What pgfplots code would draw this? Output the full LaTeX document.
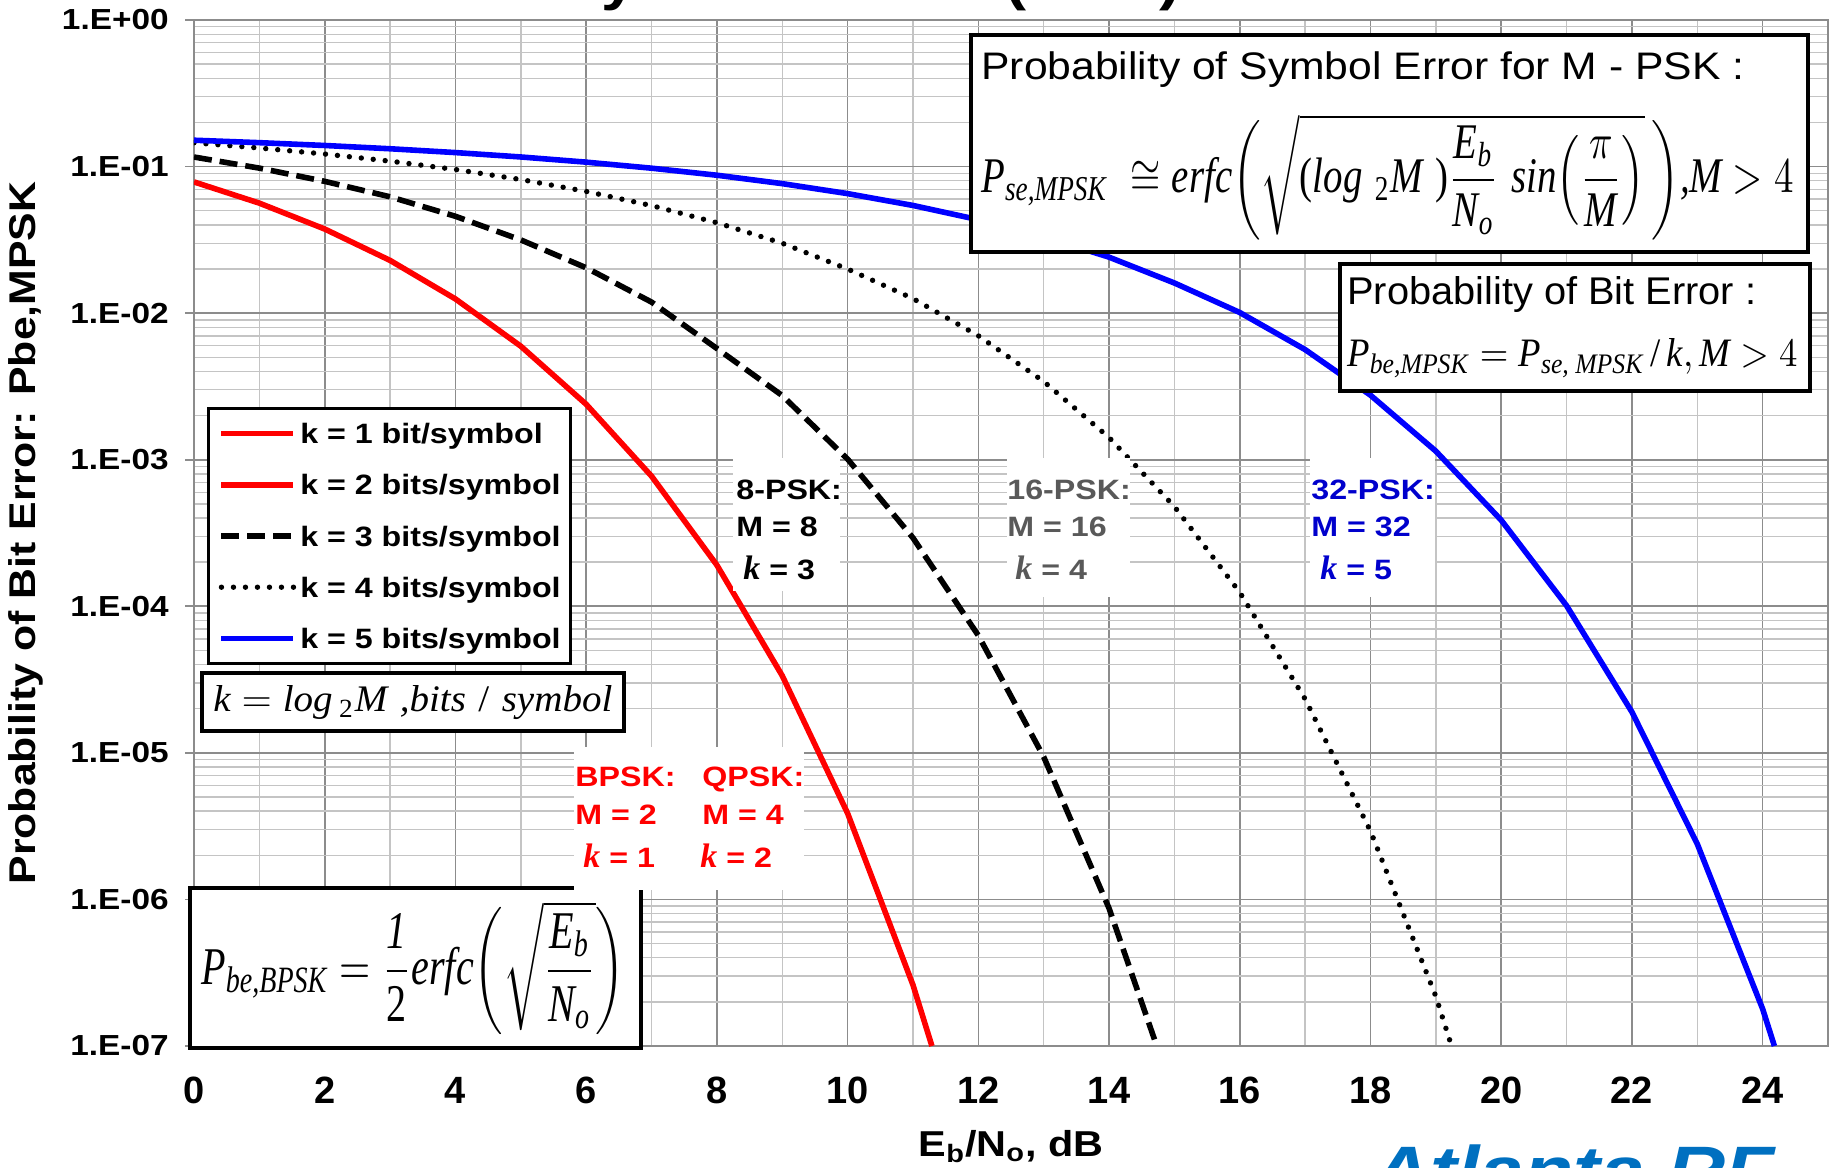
\documentclass[border=0pt]{standalone}
\usepackage{fontspec}
\usepackage{amsmath}
\usepackage{graphicx}
\usepackage{pgfplots}
\pgfplotsset{compat=1.18}
\setmainfont[FakeStretch=1.15]{Liberation Sans}
\newfontfamily\plainsans{Liberation Sans}
\newfontfamily\tnr{Liberation Serif}
\definecolor{gridmaj}{HTML}{8C8C8C}
\definecolor{gridmin}{HTML}{C4C4C4}
\definecolor{pskgray}{HTML}{595959}
\definecolor{pskblue}{HTML}{0000CC}
\definecolor{atlblue}{HTML}{0070C0}
\newcommand{\ti}[1]{\text{\tnr\itshape #1}}
\newcommand{\tu}[1]{\text{\tnr #1}}
\newcommand{\kf}{\tnr\bfseries\itshape\fontsize{17}{18}\selectfont k}
\newcommand{\lab}{\fontsize{14}{16}\selectfont\bfseries}

\begin{document}
\begin{tikzpicture}
\begin{axis}[
    name=ax,
    scale only axis,
    width=817pt, height=513pt,
    xmin=0, xmax=25,
    ymode=log, ymin=1e-7, ymax=1,
    xtick={0,2,...,24},
    xticklabels={0,2,4,6,8,10,12,14,16,18,20,22,24},
    minor xtick={1,3,...,25},
    ytick={1e-7,1e-6,1e-5,1e-4,1e-3,1e-2,1e-1,1},
    yticklabels={1.E-07,1.E-06,1.E-05,1.E-04,1.E-03,1.E-02,1.E-01,1.E+00},
    minor ytick={2e-7,3e-7,4e-7,5e-7,6e-7,7e-7,8e-7,9e-7,
                 2e-6,3e-6,4e-6,5e-6,6e-6,7e-6,8e-6,9e-6,
                 2e-5,3e-5,4e-5,5e-5,6e-5,7e-5,8e-5,9e-5,
                 2e-4,3e-4,4e-4,5e-4,6e-4,7e-4,8e-4,9e-4,
                 2e-3,3e-3,4e-3,5e-3,6e-3,7e-3,8e-3,9e-3,
                 2e-2,3e-2,4e-2,5e-2,6e-2,7e-2,8e-2,9e-2,
                 0.2,0.3,0.4,0.5,0.6,0.7,0.8,0.9},
    grid=both,
    major grid style={gridmaj, line width=0.8pt},
    minor grid style={gridmin, line width=0.7pt},
    axis line style={gridmaj, line width=0.8pt},
    xtick pos=bottom, ytick pos=left,
    tick align=outside,
    major tick length=4.5pt, minor tick length=0pt,
    xtick style={draw=none},
    ytick style={gridmaj, line width=0.8pt},
    xticklabel style={font=\plainsans\fontsize{19}{20}\selectfont\bfseries, anchor=base, yshift=-24.3pt},
    yticklabel style={font=\fontsize{14.5}{16}\selectfont\bfseries, anchor=east, inner sep=0pt, xshift=-8pt},
    xlabel={E\textsubscript{b}/N\textsubscript{o}, dB},
    xlabel style={font=\fontsize{18}{20}\selectfont\bfseries, at={(axis description cs:0.5,0)}, anchor=base, yshift=-55pt},
    ylabel={Probability of Bit Error: Pbe,MPSK},
    ylabel style={font=\fontsize{18.6}{20}\selectfont\bfseries, at={(axis description cs:-0.1028,0.5)}, anchor=center},
    legend cell align=left,
    legend image code/.code={\draw[#1] (0pt,0pt) -- (36pt,0pt);},
    legend style={at={(0.008,0.6228)}, anchor=north west, draw=black, line width=1.6pt,
        fill=white, inner xsep=5pt, inner ysep=7.5pt, row sep=15.6pt, column sep=2pt,
        font=\lab, nodes={inner sep=0pt, text height=10pt, text depth=0pt}},
]
% k = 1 and k = 2 (BPSK / QPSK share one curve)
\addplot[red, line width=2.8pt] coordinates {
    (0,0.0786) (1,0.0563) (2,0.0375) (3,0.0229) (4,0.0125) (5,0.00595)
    (6,0.00239) (7,7.73e-4) (8,1.91e-4) (9,3.36e-5) (10,3.87e-6)
    (11,2.61e-7) (11.29,1e-7)
};
\addlegendentry{k = 1 bit/symbol}
\addlegendimage{red, line width=2.8pt}
\addlegendentry{k = 2 bits/symbol}
% k = 3, 8-PSK
\addplot[black, line width=2.8pt, dash pattern=on 9pt off 4pt] coordinates {
    (0,0.1162) (1,0.0976) (2,0.0793) (3,0.0622) (4,0.0458) (5,0.0316)
    (6,0.0204) (7,0.0119) (8,0.00574) (9,0.00274) (10,0.00101)
    (11,2.93e-4) (12,6.32e-5) (13,9.4e-6) (14,8.7e-7) (14.73,1e-7)
};
\addlegendentry{k = 3 bits/symbol}
% k = 4, 16-PSK
\addplot[black, line width=2.7pt, line cap=round, dash pattern=on 0pt off 6pt] coordinates {
    (0,0.1453) (1,0.1339) (2,0.1218) (3,0.1089) (4,0.0955) (5,0.0816)
    (6,0.0677) (7,0.0542) (8,0.0414) (9,0.0300) (10,0.0200) (11,0.01258)
    (12,0.00701) (13,0.00342) (14,0.001417) (15,4.79e-4) (16,1.245e-4)
    (17,2.33e-5) (18,2.93e-6) (19,2.18e-7) (19.24,1e-7)
};
\addlegendentry{k = 4 bits/symbol}
% k = 5, 32-PSK
\addplot[blue, line width=2.8pt] coordinates {
    (0,0.1513) (1,0.1456) (2,0.1393) (3,0.1323) (4,0.1246) (5,0.1163)
    (6,0.1072) (7,0.0975) (8,0.0873) (9,0.0765) (10,0.0654) (11,0.0543)
    (12,0.0434) (13,0.0332) (14,0.0241) (15,0.01606) (16,0.0101)
    (17,0.00564) (18,0.002756) (19,0.001144) (20,3.87e-4) (21,1.01e-4)
    (22,1.90e-5) (23,2.39e-6) (24,1.79e-7) (24.18,1e-7)
};
\addlegendentry{k = 5 bits/symbol}
\end{axis}
\pgfresetboundingbox
% annotations, in pixels of the 1835 x 1167 page
\begin{scope}[shift={(ax.north west)}, xshift=-97pt, yshift=10pt, x=0.5pt, y=-0.5pt]
\path[use as bounding box] (0,0) rectangle (1835,1167);
% title (only its lower edge is on the page)
\node[anchor=base west, inner sep=0pt] at (309,0)
    {\fontsize{27.5}{29}\selectfont\bfseries Probability of Bit Error (BER) for M-PSK};
% symbol error box
\draw[line width=1.75pt, fill=white] (971,35) rectangle (1808,252);
\node[anchor=base west, inner sep=0pt] at (981,80)
    {\resizebox{381.5pt}{13.9pt}{Probability of Symbol Error for M - PSK :}};
\node[anchor=west, inner sep=0pt] at (981,177)
    {\resizebox*{406pt}{63pt}{$\displaystyle \ti{P}_{\ti{se,MPSK}}\ \cong \ti{erfc}\!\left(\sqrt{\tu{(}\ti{log}\ {}_{\tu{2}}\ti{M}\ \tu{)}\dfrac{\ti{E}_{\ti{b}}}{\ti{N}_{\ti{o}}}\ \ti{sin}\!\left(\dfrac{\pi}{\ti{M}}\right)}\,\right)\!\ti{,M} > 4$}};
% bit error box
\draw[line width=1.75pt, fill=white] (1340,264) rectangle (1810,391);
\node[anchor=base west, inner sep=0pt] at (1347,305)
    {\resizebox{204.5pt}{14pt}{Probability of Bit Error :}};
\node[anchor=base west, inner sep=0pt] at (1347,367)
    {\resizebox{225pt}{14pt}{$\ti{P}_{\ti{be,MPSK}} = \ti{P}_{\ti{se, MPSK}}\,\tu{/}\,\ti{k},\ti{M} > 4$}};
% k = log2 M box
\draw[line width=1.75pt, fill=white] (202,673) rectangle (624,731);
\node[anchor=base west, inner sep=0pt] at (213,712)
    {\resizebox{199.5pt}{13pt}{$\ti{k} = \ti{log}\,{}_{\tu{2}}\ti{M}\ \ti{,bits}\ \tu{/}\ \ti{symbol}$}};
% BPSK formula box
\draw[line width=1.75pt, fill=white] (190,888) rectangle (641,1048);
\node[anchor=west, inner sep=0pt] at (201,968)
    {\resizebox*{212pt}{67pt}{$\displaystyle \ti{P}_{\ti{be,BPSK}} = \dfrac{\ti{1}}{\tu{2}}\ti{erfc}\!\left(\sqrt{\dfrac{\ti{E}_{\ti{b}}}{\ti{N}_{\ti{o}}}}\right)$}};
% modulation labels
\fill[white] (574,747) rectangle (804,890);
\fill[white] (733,458) rectangle (840,591);
\fill[white] (1007,458) rectangle (1130,597);
\fill[white] (1310,458) rectangle (1435,597);
\begin{scope}[every node/.style={anchor=base west, inner sep=0pt, font=\lab}]
\node[red] at (575,787) {BPSK:};
\node[red] at (575,825) {M = 2};
\node[red] at (583,868) {{\kf} = 1};
\node[red] at (702,787) {QPSK:};
\node[red] at (702,825) {M = 4};
\node[red] at (700,868) {{\kf} = 2};
\node[black] at (736,500) {8-PSK:};
\node[black] at (736,537) {M = 8};
\node[black] at (743,580) {{\kf} = 3};
\node[pskgray] at (1007,500) {16-PSK:};
\node[pskgray] at (1007,537) {M = 16};
\node[pskgray] at (1015,580) {{\kf} = 4};
\node[pskblue] at (1311,500) {32-PSK:};
\node[pskblue] at (1311,537) {M = 32};
\node[pskblue] at (1320,580) {{\kf} = 5};
\end{scope}
% logo text, cut by the lower edge
\node[anchor=base west, inner sep=0pt, text=atlblue] at (1372,1195)
    {\fontsize{35}{36}\selectfont\bfseries\itshape Atlanta RF};
\end{scope}
\end{tikzpicture}
\end{document}
